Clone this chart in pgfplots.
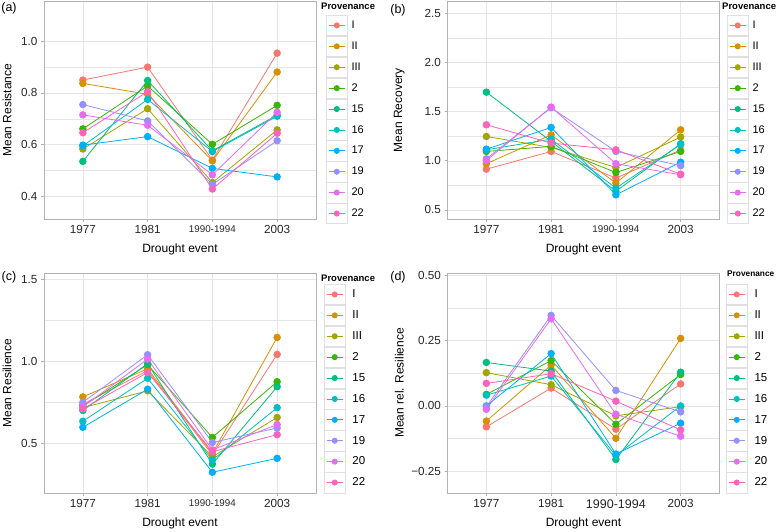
\documentclass[border=0pt]{standalone}
\usepackage{pgfplots}
\pgfplotsset{compat=1.18}
\usepackage{fontspec}
\setmainfont{Liberation Sans}

% ggplot hue palette, 10 levels
\definecolor{cI}{HTML}{F8766D}
\definecolor{cII}{HTML}{D89000}
\definecolor{cIII}{HTML}{A3A500}
\definecolor{c2}{HTML}{39B600}
\definecolor{c15}{HTML}{00BF7D}
\definecolor{c16}{HTML}{00BFC4}
\definecolor{c17}{HTML}{00B0F6}
\definecolor{c19}{HTML}{9590FF}
\definecolor{c20}{HTML}{E76BF3}
\definecolor{c22}{HTML}{FF62BC}
\definecolor{border}{HTML}{B3B3B3}
\definecolor{gridc}{HTML}{E6E6E6}
\definecolor{keyborder}{HTML}{E0E0E0}

\pgfplotsset{
  panel/.style={
    scale only axis, width=272pt,
    xmin=-0.6, xmax=3.6, xtick={0,1,2,3},
    xtick pos=bottom, ytick pos=left,
    axis line style={border, line width=0.6pt},
    tick align=outside, major tick length=3pt,
    tick style={border, line width=0.6pt},
    minor tick length=0pt, minor y tick num=1,
    grid=both,
    major grid style={gridc, line width=0.5pt},
    minor grid style={gridc, line width=0.3pt},
    ticklabel style={font=\fontsize{11.7}{13}\selectfont, text=black!85},
    xlabel={Drought event},
    every axis x label/.style={at={(axis description cs:0.5,0)}, anchor=center,
      yshift=-30pt, font=\fontsize{12}{14}\selectfont},
    legend cell align=left,
    legend image code/.code={
      \draw[keyborder, line width=0.5pt, fill=white] (0pt,-10.2pt) rectangle (21pt,10.2pt);
      \draw[##1, mark size=2.6pt, mark repeat=2, mark phase=2]
        plot coordinates {(2.5pt,0pt) (10.5pt,0pt) (18.5pt,0pt)};
    },
    every axis plot/.append style={line width=0.8pt, mark=*, mark size=3.3pt},
  },
  legA/.style={legend style={at={(axis description cs:#1)}, anchor=north west,
      draw=none, fill=none, inner sep=0pt, outer sep=0pt, row sep=0pt,
      column sep=4pt,
      nodes={inner sep=0pt, font=\fontsize{11}{13}\selectfont}}},
  legC/.style={legend style={at={(axis description cs:#1)}, anchor=north west,
      draw=none, fill=none, inner sep=0pt, outer sep=0pt, row sep=0pt,
      column sep=7pt,
      nodes={inner sep=0pt, font=\fontsize{11.5}{13}\selectfont}}},
}

\newcommand{\smallmid}{{\fontsize{9.8}{11}\selectfont 1990-1994}}

\begin{document}
\begin{tikzpicture}[x=1pt,y=1pt]
\useasboundingbox (0,0) rectangle (779,531);

% ---------------- (a) Resistance
\begin{axis}[panel, at={(44pt,312pt)}, anchor=south west, height=218pt,
    ymin=0.312, ymax=1.156,
    ytick={0.4,0.6,0.8,1.0}, yticklabels={0.4,0.6,0.8,1.0},
    xticklabels={1977,1981,\smallmid,2003},
    ylabel={Mean Resistance},
    every axis y label/.style={at={(axis description cs:-0.136,0.5)}, rotate=90,
      anchor=center, font=\fontsize{12}{14}\selectfont},
    legA={1.0368,0.9358}]
\addplot[cI]   coordinates {(0,0.850) (1,0.900) (2,0.540) (3,0.954)};
\addplot[cII]  coordinates {(0,0.837) (1,0.795) (2,0.537) (3,0.881)};
\addplot[cIII] coordinates {(0,0.583) (1,0.739) (2,0.453) (3,0.657)};
\addplot[c2]   coordinates {(0,0.661) (1,0.827) (2,0.601) (3,0.752)};
\addplot[c15]  coordinates {(0,0.535) (1,0.848) (2,0.576) (3,0.714)};
\addplot[c16]  coordinates {(0,0.595) (1,0.775) (2,0.573) (3,0.710)};
\addplot[c17]  coordinates {(0,0.598) (1,0.631) (2,0.508) (3,0.475)};
\addplot[c19]  coordinates {(0,0.755) (1,0.692) (2,0.446) (3,0.615)};
\addplot[c20]  coordinates {(0,0.715) (1,0.675) (2,0.483) (3,0.725)};
\addplot[c22]  coordinates {(0,0.646) (1,0.805) (2,0.428) (3,0.644)};
\legend{I,II,III,2,15,16,17,19,20,22}
\end{axis}

% ---------------- (b) Recovery
\begin{axis}[panel, at={(447.5pt,312pt)}, anchor=south west, height=218pt,
    ymin=0.408, ymax=2.625,
    ytick={0.5,1.0,1.5,2.0,2.5}, yticklabels={0.5,1.0,1.5,2.0,2.5},
    xticklabels={1977,1981,\smallmid,2003},
    ylabel={Mean Recovery},
    every axis y label/.style={at={(axis description cs:-0.177,0.5)}, rotate=90,
      anchor=center, font=\fontsize{12}{14}\selectfont},
    legA={1.0276,0.9358}]
\addplot[cI]   coordinates {(0,0.915) (1,1.095) (2,0.824) (3,1.110)};
\addplot[cII]  coordinates {(0,0.970) (1,1.264) (2,0.773) (3,1.315)};
\addplot[cIII] coordinates {(0,1.247) (1,1.136) (2,0.932) (3,1.241)};
\addplot[c2]   coordinates {(0,1.095) (1,1.146) (2,0.881) (3,1.095)};
\addplot[c15]  coordinates {(0,1.698) (1,1.197) (2,0.690) (3,1.173)};
\addplot[c16]  coordinates {(0,1.112) (1,1.220) (2,0.722) (3,1.166)};
\addplot[c17]  coordinates {(0,1.118) (1,1.339) (2,0.654) (3,0.986)};
\addplot[c19]  coordinates {(0,1.020) (1,1.540) (2,1.095) (3,0.950)};
\addplot[c20]  coordinates {(0,1.003) (1,1.546) (2,0.970) (3,0.858)};
\addplot[c22]  coordinates {(0,1.366) (1,1.180) (2,1.112) (3,0.864)};
\legend{I,II,III,2,15,16,17,19,20,22}
\end{axis}

% ---------------- (c) Resilience
\begin{axis}[panel, at={(44pt,38pt)}, anchor=south west, height=220pt,
    ymin=0.195, ymax=1.541,
    ytick={0.5,1.0,1.5}, yticklabels={0.5,1.0,1.5},
    xticklabels={1977,1981,\smallmid,2003},
    ylabel={Mean Resilience},
    every axis y label/.style={at={(axis description cs:-0.136,0.5)}, rotate=90,
      anchor=center, font=\fontsize{12}{14}\selectfont},
    legC={1.0294,0.95}]
\addplot[cI]   coordinates {(0,0.738) (1,0.944) (2,0.428) (3,1.043)};
\addplot[cII]  coordinates {(0,0.783) (1,0.955) (2,0.438) (3,1.147)};
\addplot[cIII] coordinates {(0,0.717) (1,0.820) (2,0.417) (3,0.657)};
\addplot[c2]   coordinates {(0,0.727) (1,0.980) (2,0.535) (3,0.876)};
\addplot[c15]  coordinates {(0,0.700) (1,0.986) (2,0.372) (3,0.845)};
\addplot[c16]  coordinates {(0,0.634) (1,0.897) (2,0.397) (3,0.717)};
\addplot[c17]  coordinates {(0,0.597) (1,0.830) (2,0.322) (3,0.407)};
\addplot[c19]  coordinates {(0,0.750) (1,1.041) (2,0.504) (3,0.593)};
\addplot[c20]  coordinates {(0,0.722) (1,1.014) (2,0.459) (3,0.614)};
\addplot[c22]  coordinates {(0,0.710) (1,0.932) (2,0.448) (3,0.552)};
\legend{I,II,III,2,15,16,17,19,20,22}
\end{axis}

% ---------------- (d) relative Resilience
\begin{axis}[panel, at={(447.5pt,38pt)}, anchor=south west, height=220pt,
    ymin=-0.333, ymax=0.508,
    ytick={-0.25,0,0.25,0.5}, yticklabels={−0.25,0.00,0.25,0.50},
    xticklabels={1977,1981,{\fontsize{12.5}{14}\selectfont 1990-1994},2003},
    ylabel={Mean rel. Resilience},
    every axis y label/.style={at={(axis description cs:-0.177,0.5)}, rotate=90,
      anchor=center, font=\fontsize{12}{14}\selectfont},
    legC={1.0239,0.95}]
\addplot[cI]   coordinates {(0,-0.080) (1,0.068) (2,-0.089) (3,0.084)};
\addplot[cII]  coordinates {(0,-0.058) (1,0.156) (2,-0.124) (3,0.258)};
\addplot[cIII] coordinates {(0,0.127) (1,0.081) (2,-0.038) (3,-0.003)};
\addplot[c2]   coordinates {(0,0.044) (1,0.173) (2,-0.070) (3,0.120)};
\addplot[c15]  coordinates {(0,0.166) (1,0.133) (2,-0.205) (3,0.129)};
\addplot[c16]  coordinates {(0,0.041) (1,0.114) (2,-0.190) (3,0.000)};
\addplot[c17]  coordinates {(0,0.000) (1,0.200) (2,-0.184) (3,-0.066)};
\addplot[c19]  coordinates {(0,-0.003) (1,0.346) (2,0.059) (3,-0.023)};
\addplot[c20]  coordinates {(0,-0.013) (1,0.333) (2,-0.032) (3,-0.116)};
\addplot[c22]  coordinates {(0,0.086) (1,0.123) (2,0.018) (3,-0.092)};
\legend{I,II,III,2,15,16,17,19,20,22}
\end{axis}

% panel tags and legend titles
\node[font=\fontsize{12.5}{14}\selectfont] at (9,523) {(a)};
\node[font=\fontsize{12.5}{14}\selectfont] at (398,521) {(b)};
\node[font=\fontsize{12.5}{14}\selectfont] at (9,254) {(c)};
\node[font=\fontsize{12.5}{14}\selectfont] at (398,254) {(d)};
\node[anchor=west, inner sep=0pt, font=\bfseries\fontsize{9.5}{11}\selectfont] at (321,525) {Provenance};
\node[anchor=west, inner sep=0pt, font=\bfseries\fontsize{9.5}{11}\selectfont] at (722,525) {Provenance};
\node[anchor=west, inner sep=0pt, font=\bfseries\fontsize{9.5}{11}\selectfont] at (321,253) {Provenance};
\node[anchor=west, inner sep=0pt, font=\bfseries\fontsize{8.3}{10}\selectfont] at (727,257.5) {Provenance};
\end{tikzpicture}
\end{document}
